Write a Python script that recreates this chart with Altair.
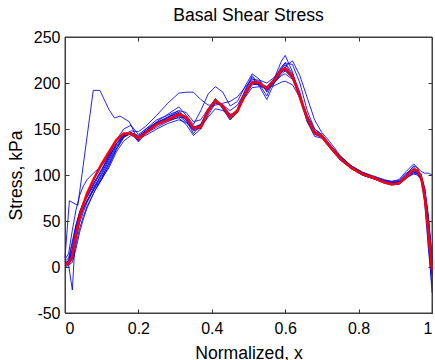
import altair as alt
import pandas as pd

# ---- data ----
X = [0, 0.01, 0.02, 0.03, 0.04, 0.05, 0.06, 0.08, 0.10, 0.12, 0.14, 0.16, 0.18, 0.20,
     0.22, 0.25, 0.28, 0.31, 0.33, 0.35, 0.37, 0.39, 0.41, 0.43, 0.45, 0.47, 0.49, 0.51,
     0.53, 0.55, 0.57, 0.59, 0.60, 0.62, 0.64, 0.66, 0.68, 0.70, 0.72, 0.75, 0.78, 0.81,
     0.84, 0.87, 0.89, 0.91, 0.93, 0.95, 0.96, 0.97, 0.98, 0.99, 1.0]

mean_stress = [3, 4, 12, 35, 55, 68, 80, 97, 112, 125, 138, 145, 145, 140,
               146, 155, 160, 166, 163, 151, 152, 170, 181, 175, 163, 170, 188, 201,
               200, 194, 203, 214, 216, 207, 185, 162, 146, 142, 132, 118, 108, 101,
               97, 92, 90, 91, 98, 106, 105, 98, 78, 40, -3]

run1 = [2, 8, 25, 45, 60, 70, 78, 92, 106, 122, 138, 145, 144, 138,
        147, 157, 162, 168, 160, 145, 155, 172, 183, 172, 160, 172, 192, 208,
        198, 186, 205, 224, 230, 212, 182, 158, 144, 141, 131, 118, 108, 101,
        97, 93, 91, 92, 100, 110, 108, 100, 75, 30, -28]
run2 = [0, 2, 5, 20, 38, 52, 64, 82, 95, 110, 128, 141, 145, 141,
        145, 152, 158, 163, 162, 153, 150, 165, 178, 176, 166, 168, 185, 198,
        199, 196, 201, 208, 210, 204, 186, 164, 148, 143, 133, 119, 109, 102,
        97, 92, 90, 90, 96, 103, 102, 96, 80, 45, 2]
run3 = [5, 6, 15, 36, 52, 63, 72, 86, 98, 112, 128, 141, 146, 143,
        148, 156, 161, 164, 158, 148, 151, 168, 179, 174, 164, 169, 187, 202,
        202, 192, 200, 212, 215, 206, 188, 160, 145, 142, 132, 117, 107, 100,
        96, 92, 90, 91, 99, 104, 103, 99, 82, 50, 5]
run4 = [3, 5, 18, 40, 56, 68, 76, 90, 104, 120, 134, 143, 146, 142,
        147, 156, 163, 170, 168, 158, 160, 172, 180, 176, 170, 176, 190, 200,
        198, 196, 205, 212, 218, 224, 208, 184, 160, 146, 137, 121, 110, 103,
        98, 94, 93, 95, 104, 112, 108, 104, 102, 102, 100]
run5 = [4, 7, 20, 40, 55, 65, 72, 85, 96, 108, 125, 137, 143, 140,
        143, 150, 156, 160, 157, 150, 152, 163, 172, 170, 165, 170, 184, 195,
        196, 195, 197, 201, 202, 198, 184, 165, 150, 144, 134, 120, 110, 103,
        98, 94, 92, 93, 97, 101, 100, 95, 85, 55, 10]
run6 = [6, 10, 28, 46, 60, 70, 76, 92, 106, 120, 134, 144, 148, 147,
        153, 165, 178, 189, 190, 190, 182, 176, 176, 178, 180, 185, 195, 204,
        203, 200, 206, 216, 222, 220, 200, 170, 150, 144, 134, 120, 110, 103,
        99, 95, 93, 94, 102, 106, 104, 100, 86, 55, 10]
run7 = [1, 4, 10, 30, 48, 60, 70, 86, 102, 118, 134, 143, 145, 141,
        148, 158, 166, 174, 165, 155, 170, 188, 196, 190, 175, 180, 196, 210,
        204, 190, 204, 218, 222, 210, 190, 160, 146, 141, 131, 117, 107, 100,
        96, 92, 91, 93, 101, 109, 104, 95, 70, 20, -20]
run8 = [2, 3, 8, 25, 42, 55, 66, 82, 96, 114, 130, 142, 146, 136,
        145, 155, 160, 162, 155, 143, 150, 170, 183, 172, 160, 168, 190, 206,
        196, 182, 200, 215, 220, 208, 186, 158, 142, 140, 130, 116, 107, 100,
        96, 91, 89, 90, 97, 102, 101, 97, 80, 40, -5]
run9 = [8, 15, 40, 62, 78, 88, 95, 103, 110, 122, 138, 150, 154, 144,
        150, 160, 165, 170, 162, 150, 155, 168, 180, 175, 165, 170, 188, 200,
        198, 192, 200, 210, 213, 205, 186, 162, 147, 142, 132, 118, 108, 101,
        97, 93, 92, 92, 98, 106, 105, 98, 75, 35, -10]
run10 = [5, 2, -25, 45, 56, 64, 72, 88, 100, 116, 132, 142, 145, 139,
         146, 154, 159, 165, 160, 149, 153, 171, 182, 174, 162, 171, 189, 202,
         200, 193, 202, 213, 216, 206, 184, 161, 146, 142, 133, 119, 109, 102,
         97, 93, 91, 92, 99, 103, 102, 101, 85, 52, 8]

XA = [0, 0.012, 0.035, 0.077, 0.095, 0.12, 0.135, 0.15, 0.175, 0.20, 0.22, 0.25,
      0.28, 0.31, 0.33, 0.35, 0.37, 0.39, 0.41, 0.43, 0.45, 0.47, 0.49, 0.51, 0.53,
      0.55, 0.57, 0.59, 0.60, 0.62, 0.64, 0.66, 0.68, 0.70, 0.72, 0.75, 0.78, 0.81,
      0.84, 0.87, 0.89, 0.91, 0.93, 0.95, 0.96, 0.97, 0.98, 0.99, 1.0]
runA = [10, 72, 67, 192, 192, 171, 162, 164, 158, 137, 150, 157,
        163, 168, 162, 152, 155, 170, 180, 174, 163, 170, 188, 200, 199,
        193, 202, 212, 214, 206, 186, 160, 146, 142, 132, 118, 108, 101,
        97, 92, 90, 91, 98, 105, 104, 97, 78, 38, -8]

x_ticks = [0, 0.2, 0.4, 0.6, 0.8, 1]
y_ticks = [-50, 0, 50, 100, 150, 200, 250]
x_domain = [0, 1]
y_domain = [-50, 250]

# ---- tables ----
rows = []
for name, vals in [("r1", run1), ("r2", run2), ("r3", run3), ("r4", run4), ("r5", run5),
                   ("r6", run6), ("r7", run7), ("r8", run8), ("r9", run9), ("r10", run10)]:
    for i, (xv, yv) in enumerate(zip(X, vals)):
        rows.append({"run": name, "order": i, "x": xv, "y": yv})
for i, (xv, yv) in enumerate(zip(XA, runA)):
    rows.append({"run": "rA", "order": i, "x": xv, "y": yv})
blue_df = pd.DataFrame(rows)
red_df = pd.DataFrame({"x": X, "y": mean_stress, "order": list(range(len(X)))})
frame_df = pd.DataFrame({"x0": [x_domain[0]], "x1": [x_domain[1]],
                         "y0": [y_domain[0]], "y1": [y_domain[1]]})

FONT = "Liberation Sans"
xscale = alt.Scale(domain=x_domain, nice=False, zero=False)
yscale = alt.Scale(domain=y_domain, nice=False, zero=False)
AX = dict(grid=False, domain=False, tickSize=4, tickColor="#333333", tickWidth=1,
          offset=-4, labelFont=FONT, labelFontSize=16, labelColor="#000000",
          titleFont=FONT, titleFontSize=17.6, titleFontWeight="normal", titleColor="#000000")

blue = alt.Chart(blue_df).mark_line(color="#0000e6", strokeWidth=1.0, opacity=0.85).encode(
    x=alt.X("x:Q", scale=xscale, title="Normalized, x",
            axis=alt.Axis(orient="bottom", values=x_ticks, labelExpr="'' + datum.value",
                          labelPadding=7, titlePadding=8, **AX)),
    y=alt.Y("y:Q", scale=yscale, title="Stress, kPa",
            axis=alt.Axis(orient="left", values=y_ticks, labelExpr="'' + datum.value",
                          labelPadding=5, titlePadding=8, **AX)),
    detail="run:N",
    order="order:Q",
)

red = alt.Chart(red_df).mark_line(color="#ff0000", strokeWidth=2.6).encode(
    x=alt.X("x:Q", scale=xscale, title=None,
            axis=alt.Axis(orient="top", values=x_ticks, labels=False, **AX)),
    y=alt.Y("y:Q", scale=yscale, title=None,
            axis=alt.Axis(orient="right", values=y_ticks, labels=False, **AX)),
    order="order:Q",
)

frame = alt.Chart(frame_df).mark_rect(fillOpacity=0, stroke="#404040", strokeWidth=1).encode(
    x=alt.X("x0:Q", scale=xscale, axis=None),
    x2="x1:Q",
    y=alt.Y("y0:Q", scale=yscale, axis=None),
    y2="y1:Q",
)

chart = alt.layer(blue, red, frame).resolve_axis(x="independent", y="independent").properties(
    width=367, height=276,
    background="white",
    autosize=alt.AutoSizeParams(type="none"),
    padding={"left": 65, "top": 37, "right": 3, "bottom": 47},
    title=alt.TitleParams("Basal Shear Stress", font=FONT, fontSize=17.6,
                          fontWeight="normal", color="#000000", anchor="middle",
                          offset=4),
).configure_view(stroke="#404040", strokeWidth=1)

chart.save("out.html", embed_options={"renderer": "svg", "actions": False})
